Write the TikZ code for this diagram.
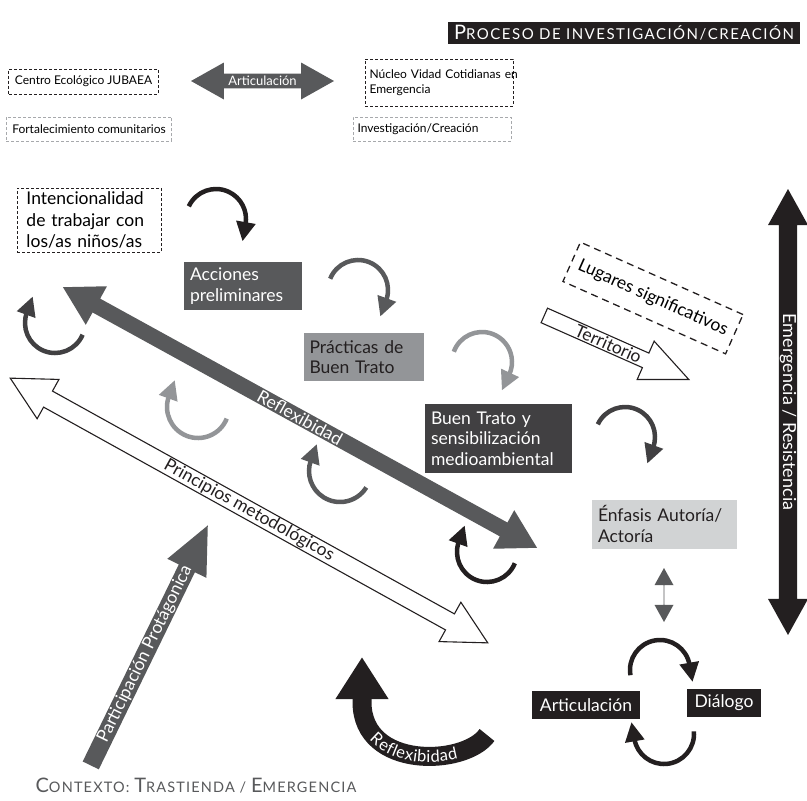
\documentclass[tikz,border=0pt]{standalone}
\usepackage{fontspec}
\setmainfont{Lato}
\usetikzlibrary{shapes.arrows}
\usetikzlibrary{arrows.meta}
\usetikzlibrary{decorations.text}

\definecolor{tinta}{HTML}{231F20}
\definecolor{grisK}{HTML}{414042}
\definecolor{grisD}{HTML}{58595B}
\definecolor{grisM}{HTML}{939598}
\definecolor{grisB}{HTML}{A7A9AC}
\definecolor{grisL}{HTML}{D1D3D4}

\newcommand{\mayus}[1]{{\fontsize{20}{20}\selectfont #1}}% versalita hecha a mano

\tikzset{
	caja/.style = {rectangle, inner xsep=6pt, inner ysep=0pt, align=left,
		font=\fontsize{17.5}{20.5}\selectfont},
	caja_n/.style = {caja, fill=tinta, text=white},% caja negra
	caja_o/.style = {caja, fill=grisK, text=white},% caja oscura
	caja_d/.style = {caja, fill=grisD, text=white},% caja gris
	caja_m/.style = {caja, fill=grisM, text=tinta},% caja gris medio
	caja_c/.style = {caja, fill=grisL, text=tinta},% caja clara
	marco/.style = {rectangle, draw=tinta, line width=0.9pt, dash pattern=on 3pt off 2pt,
		inner xsep=6pt, inner ysep=0pt, align=left,
		font=\fontsize{12}{15.5}\selectfont},% marco punteado
	marco_c/.style = {marco, draw=grisB},% marco punteado claro
	flecha2/.style = {double arrow, inner sep=0pt,
		font=\fontsize{17.5}{17.5}\selectfont},% flecha doble
	flecha1/.style = {single arrow, inner sep=0pt, anchor=tip,
		font=\fontsize{17.5}{17.5}\selectfont},% flecha simple
	pics/giro/.style n args = {4}{code = {
		\draw[#4, line width=4.5pt] (#2:#1) arc[start angle=#2, end angle=#3, radius=#1];
		\fill[#4, shift={(#3:#1)}, rotate=#3] (-10,2) -- (10,2) -- (0,-17) -- cycle;
	}}% flecha de giro
}

\begin{document}
\begin{tikzpicture}[x=1pt, y=1pt]
	\useasboundingbox (0,0) rectangle (807,-801);
	% cabecera
	\node [caja_n, minimum width=352pt, minimum height=22pt, align=center,
		font=\fontsize{15}{15}\selectfont\addfontfeatures{LetterSpace=10}] (titulo) at (624,-33)
		{\mayus{P}ROCESO DE INVESTIGACIÓN/CREACIÓN};
	\node [marco, minimum width=147pt, minimum height=25pt] (centro) at (83.5,-81.5)
		{Centro Ecológico JUBAEA};
	\node [marco_c, minimum width=158pt, minimum height=24pt] (fort) at (89,-129)
		{Fortalecimiento comunitarios};
	\node [marco, inner xsep=4.5pt, minimum width=148pt, minimum height=47pt, text width=139pt]
		(nucleo) at (439,-82.5) {\mbox{Núcleo Vidad Cotidianas en}\\Emergencia};
	\node [marco_c, inner xsep=4.5pt, minimum width=158pt, minimum height=24pt, text width=149pt]
		(inves) at (432,-129) {Investigación/Creación};
	\node [flecha2, fill=grisD, text=white, minimum height=143pt, minimum width=37pt,
		double arrow head extend=7.5pt, double arrow tip angle=58.6,
		font=\fontsize{13}{13}\selectfont] (artic) at (262.5,-81) {Articulación};

	% proceso
	\node [marco, inner xsep=9.5pt, minimum height=64pt, text width=125pt,
		font=\fontsize{17.5}{21.5}\selectfont] (inten) at (89,-220)
		{Intencionalidad\\\makebox[125pt][s]{de trabajar con}\\los/as niños/as};
	\node [caja_d, minimum height=48pt, text width=106pt] (acc) at (243,-286) {Acciones\\preliminares};
	\node [caja_m, minimum height=48pt, text width=108pt] (prac) at (363.5,-357) {Prácticas de\\Buen Trato};
	\node [caja_o, minimum height=69pt, text width=135pt] (buen) at (498.5,-438.5)
		{Buen Trato y\\sensibilización\\medioambiental};
	\node [caja_c, minimum height=49pt, text width=133pt] (enf) at (664.5,-524) {Énfasis Autoría/\\Actoría};
	\node [caja_n, minimum height=28pt, minimum width=108pt] (art) at (586,-705) {Articulación};
	\node [caja_n, minimum height=28pt, minimum width=74pt] (dia) at (724,-703) {Diálogo};

	% flechas rectas
	\node [flecha2, fill=grisD, text=white, rotate=-28.8, minimum height=541pt, minimum width=44pt,
		double arrow head extend=12pt, double arrow tip angle=60] (refl) at (300,-417.5) {Reflexibidad};
	\node [flecha2, fill=white, draw=tinta, line width=1.1pt, text=tinta, rotate=-29,
		minimum height=546pt, minimum width=45pt, double arrow head extend=12.5pt,
		double arrow tip angle=55] (princ) at (249,-510.5) {Principios metodológicos};
	\node [flecha1, fill=white, draw=tinta, line width=1.1pt, text=tinta, rotate=-23.9,
		minimum height=158pt, minimum width=42pt, single arrow head extend=11.5pt,
		single arrow tip angle=48] (terr) at (690,-380) {Territorio};
	\node [rectangle, draw=tinta, line width=1.3pt, dash pattern=on 7pt off 5pt, rotate=-24,
		minimum width=178pt, minimum height=43pt, font=\fontsize{17.5}{17.5}\selectfont]
		(lugar) at (653,-298) {Lugares significativos};
	\node [flecha1, fill=grisD, text=white, rotate=64, minimum height=267pt, minimum width=43.5pt,
		single arrow head extend=11.75pt, single arrow tip angle=49] (part) at (208,-525)
		{Participación Protágonica};
	\node [flecha2, fill=tinta, text=white, rotate=-90, minimum height=446pt, minimum width=40pt,
		double arrow head extend=10pt, double arrow tip angle=58,
		font=\fontsize{18}{18}\selectfont] (emer) at (788,-412) {Emergencia / Resistencia};
	\node [flecha2, fill=grisD, rotate=90, minimum height=54pt, minimum width=19pt,
		double arrow head extend=6pt, double arrow tip angle=58] (vinc) at (664,-595) {};

	% reflexibidad curva
	\draw [tinta, line width=19pt, -{Triangle[length=42pt, width=50pt]}]
		(487,-735) .. controls (465,-766) and (362,-770) .. (362,-702) -- (362,-657);
	\path [decorate, decoration={text along path, text align=center, raise=-6pt,
		text={|\fontsize{16.5}{16.5}\selectfont\addfontfeatures{LetterSpace=9}\color{white}|Reflexibidad}}]
		(362,-702) .. controls (362,-770) and (465,-766) .. (487,-735);

	% giros
	\pic at (216,-219) {giro={30}{155}{-10}{tinta}};
	\pic at (358,-290) {giro={30}{158}{-20}{grisD}};
	\pic at (482,-362) {giro={30}{160}{-25}{grisM}};
	\pic at (625,-437) {giro={30}{155}{-20}{grisK}};
	\pic at (55,-323) {giro={30}{-23}{-200}{grisK}};
	\pic at (198,-407) {giro={31}{-22}{-200}{grisM}};
	\pic at (340,-471) {giro={31}{-32}{-200}{grisD}};
	\pic at (487,-552) {giro={30}{-22}{-200}{tinta}};
	\pic at (660,-670) {giro={30}{190}{10}{tinta}};
	\pic at (664,-734) {giro={30}{5}{-170}{tinta}};

	% contexto
	\node [text=grisD, font=\fontsize{14.5}{14.5}\selectfont\addfontfeatures{LetterSpace=8}]
		(contexto) at (196,-786) {\mayus{C}ONTEXTO: \mayus{T}RASTIENDA / \mayus{E}MERGENCIA};
\end{tikzpicture}
\end{document}
